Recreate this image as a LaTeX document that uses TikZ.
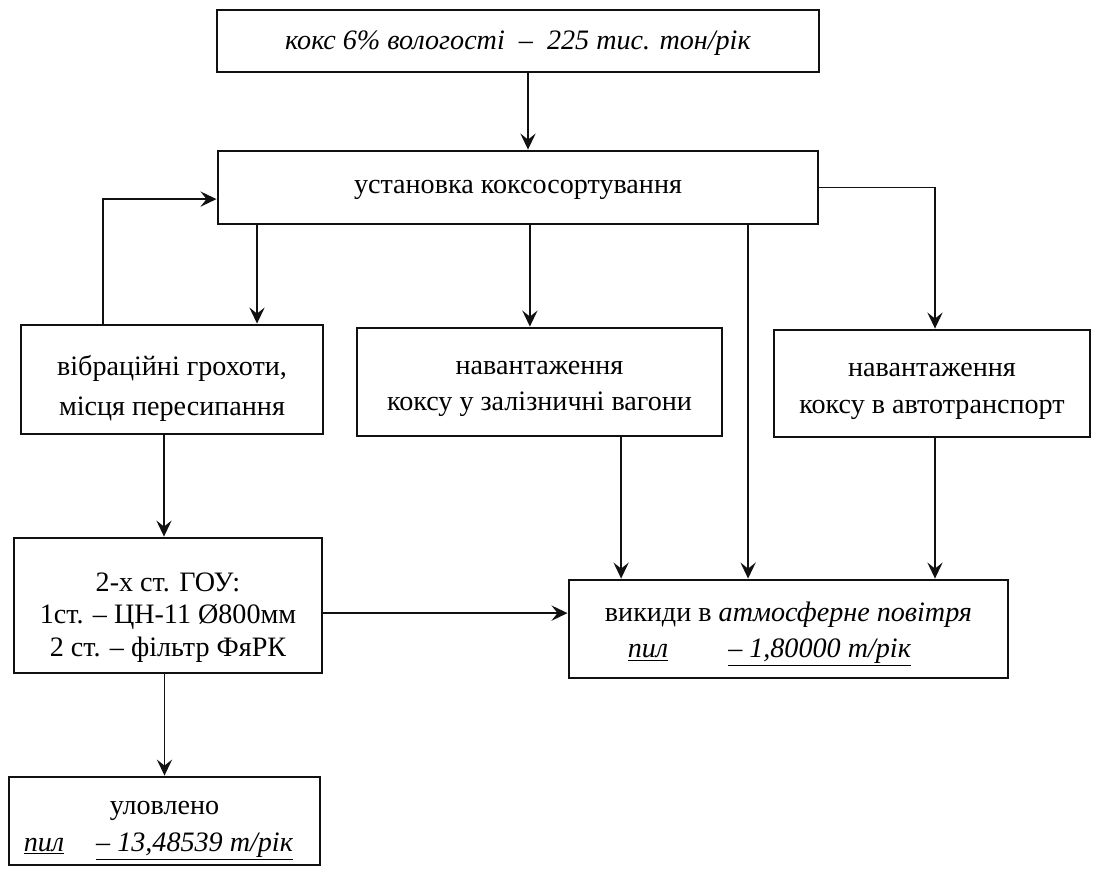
\documentclass[tikz,border=0pt]{standalone}
\usepackage{fontspec}
\setmainfont{Liberation Serif}
\usetikzlibrary{arrows.meta, positioning}
\definecolor{cline}{HTML}{111111}
\newcommand{\toppad}[1]{\rule{0pt}{#1}}
\tikzset{
  every picture/.style={line width=1.3pt},
  box/.style={draw=cline, line width=2pt, align=center, inner sep=0pt, font=\fontsize{20}{26}\selectfont},
  arrow/.style={-{Stealth[length=4mm, width=3.8mm, inset=1.5mm]}, draw=cline, line width=1.3pt},
}

\begin{document}
\begin{tikzpicture}[x=0.025cm, y=-0.025cm]
  \useasboundingbox (0,0) rectangle (1093,874);
  % source and sorting plant
  \node[box, minimum width=15.05cm, minimum height=1.55cm] (top) at (518,41)
    {\toppad{16.4pt}\textit{кокс 6\% вологості \ – \ 225 тис. тон/рік}};
  \node[box, minimum width=15cm, minimum height=1.825cm] (sort) at (518,187.5)
    {\toppad{13.4pt}установка коксосортування};
  % second row
  \node[box, minimum width=7.55cm, minimum height=2.725cm, font=\fontsize{20}{28.5}\selectfont] (vib) at (172,379.5)
    {\toppad{27pt}вібраційні грохоти,\\ місця пересипання};
  \node[box, minimum width=9.125cm, minimum height=2.7cm] (rail) at (539.5,382)
    {\toppad{19.2pt}навантаження\\ коксу у залізничні вагони};
  \node[box, minimum width=7.9cm, minimum height=2.675cm] (auto) at (932,383.5)
    {\toppad{20.6pt}навантаження\\ коксу в автотранспорт};
  % gas cleaning, emissions, caught dust
  \node[box, minimum width=7.7cm, minimum height=3.375cm, font=\fontsize{20}{23}\selectfont] (goy) at (168,605.5)
    {\toppad{30.5pt}2-х ст. ГОУ:\\ 1ст. – ЦН-11 Ø800мм\\ 2 ст. – фільтр ФяРК};
  \node[box, minimum width=10.975cm, minimum height=2.45cm] (air) at (788.5,629)
    {\toppad{21pt}викиди в \textit{атмосферне повітря}\\
     \underline{\textit{пил}}\hspace{1.5cm}\underline{\textit{– 1,80000 т/рік}}\hspace*{0.95cm}};
  \node[box, minimum width=7.775cm, minimum height=2.2cm] (caught) at (164.5,821)
    {\toppad{23.5pt}уловлено\\ \underline{\textit{пил}}\hspace{0.8cm}\underline{\textit{– 13,48539 т/рік}}\hspace*{0.3cm}};

  \draw[arrow] ([xshift=0.25cm]top.south) -- ([xshift=0.25cm]sort.north);
  \draw[arrow] ([xshift=-1.725cm]vib.north) |- ([yshift=-0.29cm]sort.west);
  \draw[arrow] ([xshift=2.125cm]vib.north |- sort.south) -- ([xshift=2.125cm]vib.north);
  \draw[arrow] ([xshift=-0.24cm]rail.north |- sort.south) -- ([xshift=-0.24cm]rail.north);
  \draw[arrow] ([xshift=-1.01cm]air.north |- sort.south) -- ([xshift=-1.01cm]air.north);
  \draw[arrow] (sort.east) -| ([xshift=0.075cm]auto.north);
  \draw[arrow] ([xshift=-0.1cm]goy.north |- vib.south) -- ([xshift=-0.1cm]goy.north);
  \draw[arrow] ([yshift=-0.19cm]goy.east) -- ([yshift=-0.19cm]goy.east -| air.west);
  \draw[arrow] ([xshift=2.04cm]rail.south) -- ([xshift=2.04cm]rail.south |- air.north);
  \draw[arrow] ([xshift=0.075cm]auto.south) -- ([xshift=0.075cm]auto.south |- air.north);
  \draw[arrow] (caught.north |- goy.south) -- (caught.north);
\end{tikzpicture}
\end{document}
